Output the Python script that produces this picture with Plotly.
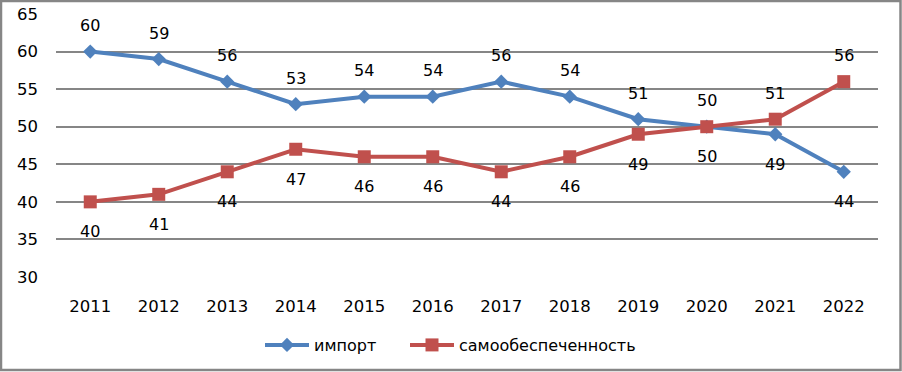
import plotly.graph_objects as go

years = ["2011", "2012", "2013", "2014", "2015", "2016", "2017", "2018", "2019", "2020", "2021", "2022"]
import_vals = [60, 59, 56, 53, 54, 54, 56, 54, 51, 50, 49, 44]
self_vals = [40, 41, 44, 47, 46, 46, 44, 46, 49, 50, 51, 56]
import_label_pos = ["above"] * 10 + ["below"] * 2
self_label_pos = ["below"] * 10 + ["above"] * 2
y_ticks = [30, 35, 40, 45, 50, 55, 60, 65]

BLUE = "#4F81BD"
RED = "#C0504D"
FONT = "DejaVu Sans"

fig = go.Figure()
fig.add_trace(go.Scatter(
    x=years, y=import_vals, name="импорт", mode="lines+markers",
    line=dict(color=BLUE, width=4),
    marker=dict(symbol="diamond", size=11, color=BLUE),
    legend="legend",
))
fig.add_trace(go.Scatter(
    x=years, y=self_vals, name="самообеспеченность", mode="lines+markers",
    line=dict(color=RED, width=4),
    marker=dict(symbol="square", size=13, color=RED),
    legend="legend2",
))

annotations = []
for vals, pos in ((import_vals, import_label_pos), (self_vals, self_label_pos)):
    for i, (v, p) in enumerate(zip(vals, pos)):
        annotations.append(dict(
            x=i, y=v, xref="x", yref="y", text=str(v), showarrow=False,
            yshift=26 if p == "above" else -30,
            font=dict(family=FONT, size=16, color="black"),
        ))

fig.add_shape(type="rect", xref="paper", yref="paper",
              x0=(1 - 56) / 822, x1=(900.5 - 56) / 822,
              y0=(277 - 370) / 263, y1=(277 - 1) / 263,
              line=dict(color="#868686", width=2.5), fillcolor="rgba(0,0,0,0)", layer="below")

legend_common = dict(orientation="h", y=-0.2586, yanchor="middle", xanchor="left",
                     itemwidth=44,
                     font=dict(family=FONT, size=16, color="black"),
                     bgcolor="rgba(0,0,0,0)")

fig.update_layout(
    template="none",
    width=902, height=372,
    margin=dict(l=56, r=24, t=14, b=95, pad=0, autoexpand=False),
    paper_bgcolor="white", plot_bgcolor="white",
    font=dict(family=FONT, size=16, color="black"),
    showlegend=True,
    annotations=annotations,
    legend=dict(x=(260 - 56) / 822, **legend_common),
    legend2=dict(x=(405 - 56) / 822, **legend_common),
    xaxis=dict(type="category", range=[-0.5, 11.5], showgrid=False, zeroline=False,
               showline=False, ticks="", ticklabelstandoff=17, automargin=False,
               tickfont=dict(family=FONT, size=16.5, color="black")),
    yaxis=dict(range=[30, 65], tickvals=y_ticks, showgrid=True, gridcolor="#868686",
               gridwidth=2, zeroline=False, showline=False, ticks="", automargin=False,
               ticklabelstandoff=17, tickfont=dict(family=FONT, size=16.5, color="black")),
)

fig.write_html("out.html", config={"displayModeBar": False},
               post_script=["document.body.style.margin='0';"])
